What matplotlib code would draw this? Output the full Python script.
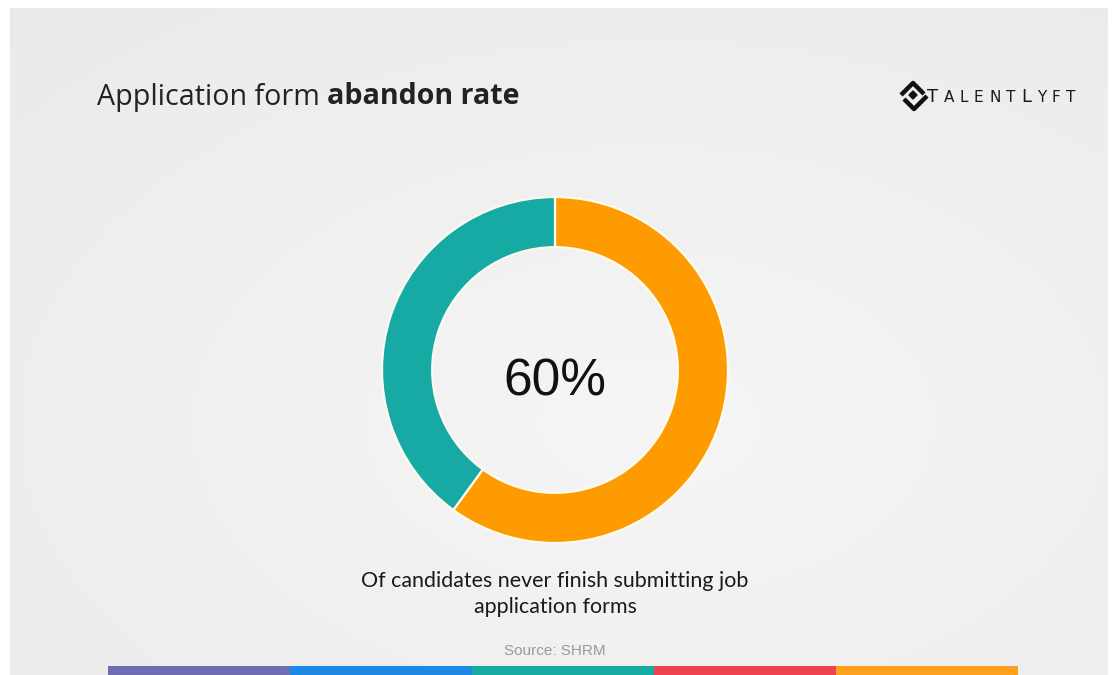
import numpy as np
import matplotlib
matplotlib.use("Agg")
import matplotlib.pyplot as plt

# data
labels = ["Never finish", "Finish"]
values = [60, 40]
slice_colors = ["#fd9b00", "#17aaa4"]
center_label = "60%"
title_regular = "Application form "
title_bold = "abandon rate"
caption = "Of candidates never finish submitting job\napplication forms"
source = "Source: SHRM"
brand = "TALENTLYFT"
stripe_colors = ["#706db0", "#1e88e5", "#17aca2", "#ef4150", "#ffa01e"]

W, H = 1116, 675
fig = plt.figure(figsize=(W / 100, H / 100), dpi=100)
fig.patch.set_facecolor("white")

# background canvas in pixel coordinates
bg = fig.add_axes([0, 0, 1, 1])
bg.set_xlim(0, W)
bg.set_ylim(H, 0)
bg.axis("off")

yy, xx = np.mgrid[0:H, 0:W]
d = np.sqrt(((xx - 650) / W) ** 2 + ((yy - 420) / H) ** 2)
shade = 0.962 - 0.05 * d
bg.imshow(np.dstack([shade] * 3), extent=(10, W - 8, H, 8), zorder=0)

# title: regular + bold part
r = fig.canvas.get_renderer()
t1 = bg.text(97, 97, title_regular, fontsize=20.6, family="Open Sans",
             color="#222222", va="center", ha="left")
bb = t1.get_window_extent(renderer=r)
bg.text(97 + bb.width, 97, title_bold, fontsize=20.6, family="Open Sans",
        weight="bold", color="#222222", va="center", ha="left")

# logo icon
bg.plot([901, 913, 924], [95, 83, 94], color="#111111", lw=3.2,
        solid_capstyle="butt", zorder=3)
bg.plot([904, 914, 927], [99, 109, 96], color="#111111", lw=3.2,
        solid_capstyle="butt", zorder=3)
bg.fill([913, 917, 913, 909], [91, 95, 99, 95], color="#111111", zorder=3)

# logo word with tracking
x = 927
for i, ch in enumerate(brand):
    size = 13 if i in (0, 6) else 11
    t = bg.text(x, 102, ch, fontsize=size, family="DejaVu Sans",
                color="#1a1a1a", ha="left", va="baseline")
    x += t.get_window_extent(renderer=r).width + 5.6

# donut
cx, cy, rad = 555, 370, 173
ax = fig.add_axes([(cx - rad) / W, 1 - (cy + rad) / H, 2 * rad / W, 2 * rad / H])
ax.pie(values, colors=slice_colors, startangle=90, counterclock=False,
       radius=1, wedgeprops=dict(width=0.29, edgecolor="#fbfbf0", linewidth=1.6))
ax.set_xlim(-1, 1)
ax.set_ylim(-1, 1)
ax.set_aspect("equal")
ax.axis("off")

bg.text(cx, 382, center_label, fontsize=37, family="Liberation Sans",
        color="#111111", ha="center", va="center")

bg.text(cx, 594, caption, fontsize=15.4, family="Lato", color="#1a1a1a",
        ha="center", va="center", linespacing=1.4)

bg.text(cx, 651, source, fontsize=11, family="Liberation Sans",
        color="#9a9a9a", ha="center", va="center")

# bottom colour stripe
seg = (1018 - 108) / len(stripe_colors)
bg.bar([108 + seg * i for i in range(len(stripe_colors))], [9] * len(stripe_colors),
       width=seg, bottom=666, align="edge", color=stripe_colors, zorder=2)

fig.savefig("out.png", dpi=100, facecolor=fig.get_facecolor())
